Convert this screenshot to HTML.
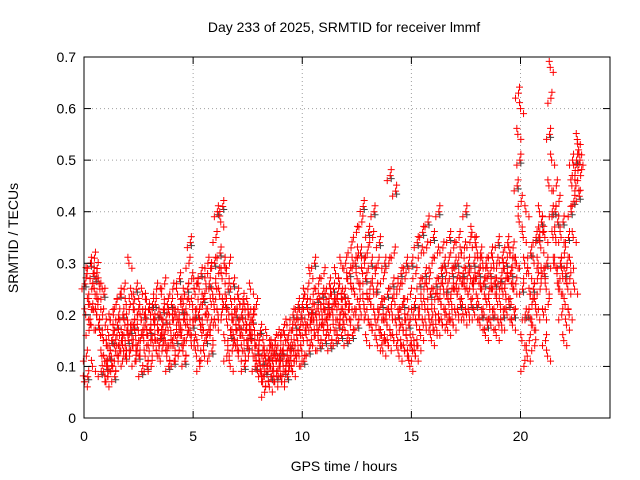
<!DOCTYPE html>
<html><head><meta charset="utf-8"><style>
body{margin:0;background:#fff;}
svg{display:block;font-family:"Liberation Sans",sans-serif;}
</style></head><body>
<svg id="chart" width="640" height="480">
<rect width="640" height="480" fill="#fff"/>
<text x="344" y="32" font-size="14" text-anchor="middle">Day 233 of 2025, SRMTID for receiver lmmf</text>
<text x="344" y="471" font-size="14" text-anchor="middle">GPS time / hours</text>
<text x="18" y="238" font-size="14" text-anchor="middle" transform="rotate(-90 18 238)">SRMTID / TECUs</text>
<g id="grid"></g><g id="pts"></g>
<rect x="84" y="57" width="526" height="361" fill="none" stroke="#000"/>
<g id="ticks"></g>
</svg>
<script>
const xTicks=[0,5,10,15,20];
const yTicks=[0,0.1,0.2,0.3,0.4,0.5,0.6,0.7];
const binHours=0.25;
const srmtid=[
[.07,.26,.2,.12,.28,.08,.22,.17],[.22,.3,.18,.25,.1,.28,.21,.31],[.24,.27,.2,.29,.22,.18,.26,.25],[.16,.09,.12,.2,.15,.24,.11,.18],
[.07,.1,.14,.08,.16,.12,.19,.09],[.12,.15,.1,.2,.17,.08,.13,.22],[.14,.18,.11,.2,.16,.24,.13,.15],[.16,.2,.13,.25,.18,.12,.22,.17],
[.19,.15,.3,.12,.22,.17,.24,.14],[.14,.18,.21,.11,.16,.25,.13,.2],[.17,.12,.22,.15,.19,.09,.24,.16],[.15,.2,.12,.18,.23,.1,.16,.21],
[.13,.17,.2,.1,.16,.22,.14,.19],[.18,.22,.15,.25,.12,.2,.17,.14],[.2,.16,.24,.13,.18,.21,.15,.26],[.15,.19,.12,.22,.17,.1,.2,.14],
[.17,.22,.14,.25,.19,.11,.2,.16],[.2,.15,.24,.12,.18,.27,.16,.22],[.16,.21,.13,.19,.24,.11,.18,.15],[.2,.25,.17,.3,.22,.34,.15,.27],
[.22,.18,.27,.15,.24,.2,.12,.26],[.14,.2,.25,.1,.18,.28,.16,.22],[.17,.23,.12,.2,.26,.15,.19,.3],[.2,.26,.16,.29,.22,.13,.24,.18],
[.22,.3,.18,.35,.25,.4,.2,.28],[.24,.32,.38,.2,.27,.41,.22,.3],[.15,.22,.28,.12,.18,.25,.2,.3],[.1,.16,.22,.13,.19,.26,.15,.2],
[.14,.2,.17,.24,.12,.18,.22,.16],[.16,.2,.13,.23,.18,.1,.21,.17],[.18,.14,.22,.12,.2,.16,.25,.15],[.15,.19,.12,.2,.17,.1,.14,.22],
[.1,.13,.08,.15,.11,.17,.09,.12],[.07,.11,.14,.05,.12,.09,.16,.1],[.09,.12,.06,.14,.1,.08,.13,.11],[.1,.13,.07,.15,.11,.08,.12,.16],
[.08,.12,.1,.15,.07,.13,.11,.17],[.12,.09,.15,.11,.18,.08,.14,.1],[.1,.14,.12,.17,.09,.2,.13,.11],[.14,.18,.11,.2,.15,.22,.12,.17],
[.16,.2,.13,.22,.18,.11,.24,.17],[.18,.22,.15,.25,.2,.13,.28,.19],[.17,.21,.14,.24,.19,.3,.16,.2],[.19,.23,.16,.26,.2,.14,.22,.18],
[.2,.24,.17,.28,.21,.15,.23,.19],[.18,.22,.16,.26,.2,.14,.24,.21],[.2,.25,.17,.22,.28,.15,.21,.24],[.22,.18,.26,.2,.3,.16,.23,.19],
[.2,.24,.17,.3,.22,.15,.27,.21],[.22,.28,.18,.33,.25,.16,.3,.2],[.24,.3,.2,.36,.27,.18,.32,.22],[.25,.32,.2,.38,.28,.41,.22,.3],
[.2,.27,.15,.32,.23,.36,.18,.25],[.22,.3,.17,.35,.25,.4,.2,.28],[.18,.25,.14,.3,.2,.34,.16,.22],[.16,.22,.13,.27,.19,.3,.15,.2],
[.18,.24,.14,.3,.2,.47,.16,.22],[.2,.26,.15,.32,.22,.44,.18,.25],[.15,.2,.12,.25,.18,.28,.14,.22],[.17,.22,.13,.27,.19,.3,.15,.2],
[.12,.18,.1,.24,.15,.3,.13,.2],[.15,.22,.12,.28,.18,.34,.14,.2],[.2,.26,.16,.32,.22,.36,.18,.25],[.22,.28,.18,.33,.25,.38,.2,.27],
[.18,.24,.15,.3,.2,.35,.17,.23],[.2,.26,.17,.32,.23,.4,.19,.25],[.22,.28,.18,.33,.25,.3,.2,.27],[.2,.25,.17,.3,.22,.35,.19,.24],
[.22,.28,.18,.33,.25,.3,.2,.26],[.24,.3,.2,.35,.27,.22,.32,.26],[.22,.28,.19,.33,.25,.4,.2,.27],[.24,.3,.2,.34,.27,.22,.36,.26],
[.25,.3,.2,.34,.27,.22,.32,.28],[.22,.28,.18,.32,.25,.2,.3,.26],[.2,.26,.16,.3,.22,.18,.28,.24],[.22,.28,.18,.32,.25,.2,.3,.26],
[.2,.26,.16,.3,.22,.34,.18,.25],[.22,.27,.18,.31,.24,.2,.29,.26],[.24,.3,.2,.34,.27,.22,.32,.28],[.22,.28,.18,.33,.25,.2,.3,.26],
[.3,.45,.55,.63,.38,.5,.6,.42],[.15,.25,.35,.1,.3,.2,.4,.28],[.12,.2,.28,.15,.24,.32,.18,.22],[.18,.25,.3,.14,.22,.35,.2,.27],
[.3,.35,.4,.25,.33,.38,.28,.36],[.2,.28,.35,.15,.25,.3,.12,.22],[.45,.55,.68,.62,.5,.4,.35,.3],[.3,.4,.35,.45,.28,.38,.25,.42],
[.25,.3,.35,.2,.28,.38,.15,.32],[.22,.28,.18,.3,.25,.35,.2,.27],[.3,.4,.45,.5,.35,.42,.25,.48],[.45,.5,.54,.48,.52,.43,.5,.47]
];
const NS="http://www.w3.org/2000/svg";
const X=h=>84+h*(526/24.1), Y=v=>418-v*(361/0.7);
const grid=document.getElementById('grid'),ticks=document.getElementById('ticks'),pts=document.getElementById('pts');
function mk(tag,a,p){const e=document.createElementNS(NS,tag);for(const k in a)e.setAttribute(k,a[k]);p.appendChild(e);return e;}
xTicks.forEach(t=>{const x=X(t);
 if(t>0){const g=mk('line',{x1:x,x2:x,y1:57,y2:418,stroke:'#a0a0a0','stroke-dasharray':'1,3'},grid);
 
 }
 mk('line',{x1:x,x2:x,y1:418,y2:411,stroke:'#000'},ticks);mk('line',{x1:x,x2:x,y1:57,y2:64,stroke:'#000'},ticks);
 const l=mk('text',{x:x,y:441,'font-size':14,'text-anchor':'middle'},ticks);l.textContent=t;
 
 });
yTicks.forEach(t=>{const y=Y(t);
 if(t>0&&t<0.7){const g=mk('line',{x1:84,x2:610,y1:y,y2:y,stroke:'#a0a0a0','stroke-dasharray':'1,3'},grid);
 
 }
 mk('line',{x1:84,x2:91,y1:y,y2:y,stroke:'#000'},ticks);mk('line',{x1:610,x2:603,y1:y,y2:y,stroke:'#000'},ticks);
 const l=mk('text',{x:76,y:y+5,'font-size':14,'text-anchor':'end'},ticks);l.textContent=t;
 
 });
let d='',dg='';
const plus=(x,y)=>`M${x-3.5} ${y}h7M${x} ${y-3.5}v7`;
srmtid.forEach((bin,i)=>{bin.forEach((v,j)=>{
 const x=X((i+(j+0.5)/bin.length)*binHours*0.99),y=Y(v);
 const s=(j%2===0)?1:-1;
 d+=plus(x,y)+plus(x+3*s,y+5)+plus(x-1*s,y-6);
 if(j%4===1)dg+=plus(x+1,y+3);});});
const pg=mk('path',{d:dg,stroke:'#404040','stroke-width':1,fill:'none'},pts);


const pr=mk('path',{d:d,stroke:'#ff0000','stroke-width':1,fill:'none'},pts);


</script>
</body></html>
